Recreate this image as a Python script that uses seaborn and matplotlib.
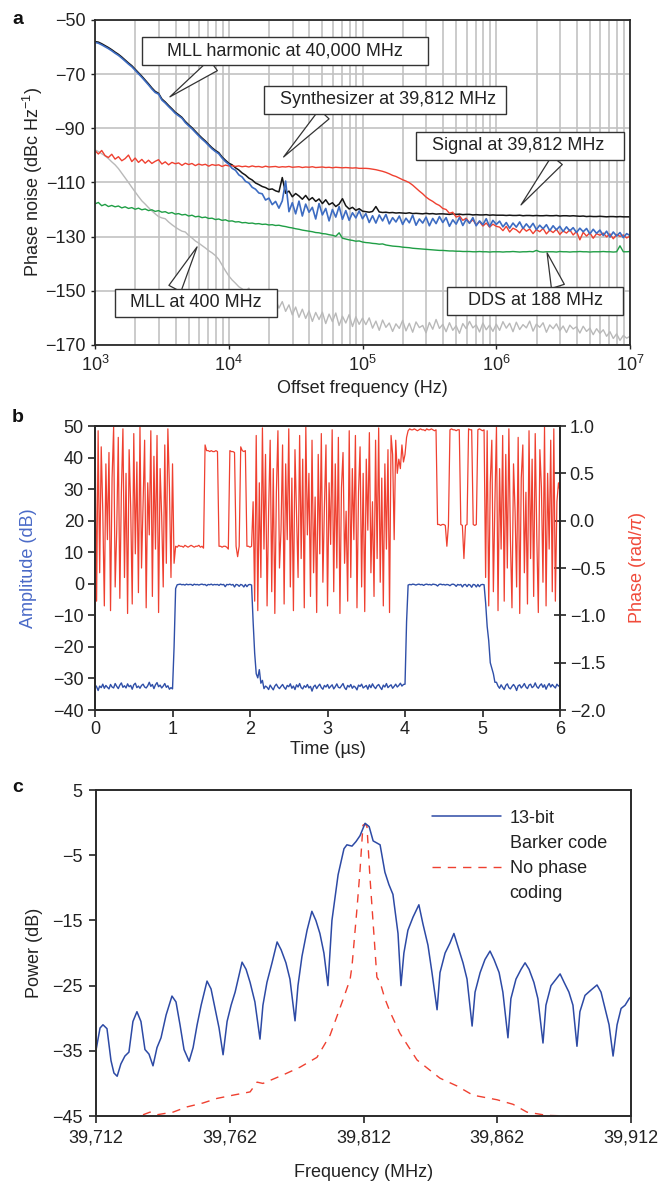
import numpy as np
import pandas as pd
import matplotlib
matplotlib.use("Agg")
import matplotlib.pyplot as plt
import seaborn as sns
from matplotlib.ticker import FixedLocator, FuncFormatter, LogLocator, NullFormatter
from matplotlib.lines import Line2D

# ---------------- panel a data ----------------
offset_exp = np.linspace(3, 7, 161)  # log10 of offset frequency sample grid

mll_harmonic = [
    -58.3, -58.6, -59.2, -59.9, -60.6, -61.4, -62.3, -63.1, -64.1, -65.2,
    -66.3, -67.3, -68.6, -69.9, -71.2, -72.6, -74.0, -75.5, -76.8, -77.4,
    -79.6, -80.7, -82.0, -83.2, -84.5, -85.4, -86.3, -87.9, -89.1, -90.2,
    -91.5, -92.8, -94.0, -95.1, -96.4, -97.6, -98.6, -99.4, -101.0, -102.3,
    -103.3,
    -104.8, -105.5, -107.2, -108.0, -109.6, -110.2, -111.8, -112.5, -113.9, -114.2,
    -116.5, -115.8, -118.2, -117.0, -119.5, -116.8, -109.5, -120.8, -117.5, -121.6,
    -116.9, -122.4, -118.0, -121.0, -119.2, -123.5, -117.8, -122.0, -119.6, -124.2,
    -120.0, -122.8, -118.9, -123.6, -120.4, -124.0, -121.2, -123.1, -120.5, -123.4,
    -121.5, -124.8, -122.3, -125.0, -122.0, -124.2, -121.8, -125.3, -123.0, -124.6,
    -122.4, -125.5, -123.2, -124.9, -122.1, -125.8, -123.5, -125.0, -122.8, -126.0,
    -123.3, -125.2, -122.6, -124.8, -123.0, -126.2, -123.8, -125.4, -122.9, -125.9,
    -123.6, -125.1, -123.0, -126.0, -124.2, -125.6, -123.4, -126.3, -124.0, -125.5,
    -124.3, -126.4, -124.8, -126.9, -125.0, -126.5, -124.6, -127.0, -125.3, -126.8,
    -125.1, -127.4, -125.8, -127.1, -125.6, -127.8, -126.0, -127.5, -126.2, -128.1,
    -126.4, -127.9, -126.7, -128.5, -126.9, -128.2, -127.0, -129.0, -127.3, -128.8,
    -127.6, -129.6, -128.0, -130.2, -128.3, -129.8, -128.5, -130.4, -128.9, -129.6,
]

signal_39812 = [
    -58.0, -58.2, -58.8, -59.5, -60.2, -61.0, -61.9, -62.7, -63.7, -64.8,
    -65.9, -66.9, -68.2, -69.5, -70.8, -72.2, -73.6, -75.1, -76.4, -77.1,
    -79.2, -80.3, -81.6, -82.8, -84.1, -85.0, -86.0, -87.5, -88.7, -89.8,
    -91.1, -92.4, -93.6, -94.7, -96.0, -97.2, -98.2, -99.0, -100.6, -101.8,
    -102.9,
    -103.5, -104.6, -105.4, -106.5, -107.3, -108.4, -109.1, -110.2, -110.8, -111.5,
    -111.9, -112.6, -112.4, -113.1, -113.5, -108.2, -114.0, -113.2, -115.3, -114.1,
    -115.0, -116.2, -114.8, -116.5, -115.6, -117.0, -116.1, -117.8, -116.4, -118.2,
    -117.5, -118.9, -118.0, -116.0, -118.6, -119.8, -119.2, -120.3, -119.7, -120.6,
    -120.8, -121.0, -120.7, -118.9, -120.9, -121.1, -121.0, -121.2, -121.1, -121.3,
    -121.2, -121.3, -121.4, -121.2, -121.5, -121.4, -121.5, -121.6, -121.4, -121.6,
    -121.5, -121.7, -121.6, -121.6, -121.7, -121.8, -121.6, -121.8, -121.7, -121.9,
    -121.8, -121.8, -122.0, -121.9, -122.0, -122.0, -121.9, -122.1, -122.0, -122.1,
    -122.1, -122.1, -122.2, -122.1, -122.2, -122.2, -122.1, -122.3, -122.2, -122.2,
    -122.3, -122.2, -122.3, -122.3, -122.2, -122.3, -122.3, -122.2, -122.4, -122.3,
    -122.3, -122.4, -122.3, -122.4, -122.5, -122.4, -122.6, -122.5, -122.6, -122.6,
    -122.5, -122.6, -122.7, -122.6, -122.6, -122.7, -122.6, -122.7, -122.7, -122.7,
]

synth_39812 = [
    -98.3, -99.5, -98.2, -100.1, -100.8, -99.6, -101.4, -100.5, -102.0, -101.2,
    -99.9, -102.3, -101.0, -102.6, -101.5, -102.9, -101.8, -103.0, -102.2, -101.6,
    -103.2, -102.4, -103.5, -102.6, -103.1, -102.8, -103.7, -102.9, -103.4, -103.0,
    -103.8, -103.2, -103.6, -103.3, -104.0, -103.4, -103.7, -103.5, -104.1, -103.6,
    -103.9,
    -103.8, -104.1, -103.9, -104.2, -104.0, -104.3, -103.9, -104.2, -104.1, -104.4,
    -104.0, -104.3, -104.2, -104.1, -104.4, -104.2, -104.3, -104.1, -104.4, -104.3,
    -104.2, -104.5, -104.3, -104.4, -104.2, -104.5, -104.4, -104.3, -104.5, -104.4,
    -104.6, -104.4, -104.5, -104.6, -104.5, -104.6, -104.7, -104.6, -104.8, -104.8,
    -104.8, -104.9, -105.1, -105.3, -105.6, -105.9, -106.3, -106.8, -107.4, -107.8,
    -108.4, -109.0, -109.5, -110.1, -111.0, -112.1, -113.2, -114.2, -115.4, -116.3,
    -117.0, -117.9, -118.5, -119.6, -120.0, -121.4, -121.0, -122.8, -122.3, -124.0,
    -123.2, -124.9, -123.8, -125.6, -124.5, -126.1, -125.0, -126.5, -125.4, -126.2,
    -126.5, -127.8, -126.2, -128.3, -126.9, -127.5, -128.6, -126.8, -128.0, -127.2,
    -128.9, -127.4, -128.2, -127.0, -129.0, -127.6, -128.5, -127.3, -129.2, -127.9,
    -128.7, -127.5, -129.4, -128.1, -131.2, -128.4, -129.8, -128.6, -130.6, -128.9,
    -129.5, -128.7, -130.1, -129.0, -130.8, -129.2, -129.9, -129.4, -130.5, -129.8,
]

dds_188 = [
    -117.9, -117.4, -118.6, -118.1, -118.9, -118.5, -119.0, -118.7, -119.4, -119.0,
    -119.6, -119.3, -119.9, -119.5, -120.1, -119.8, -120.4, -120.1, -120.7, -120.4,
    -121.0, -120.8, -121.4, -121.1, -121.7, -121.5, -122.0, -121.8, -122.4, -122.1,
    -122.7, -122.5, -123.0, -122.8, -123.3, -123.2, -123.7, -123.5, -124.0, -123.8,
    -124.3,
    -124.2, -124.6, -124.5, -124.9, -124.8, -125.1, -125.0, -125.3, -125.2, -125.5,
    -125.4, -125.7, -125.6, -125.9, -125.8, -126.1, -126.3, -126.6, -126.8, -127.1,
    -127.3, -127.6, -127.8, -128.0, -128.2, -128.5, -128.6, -128.9, -129.0, -129.3,
    -129.5, -129.9, -128.6, -130.6, -130.9, -131.2, -131.4, -131.7, -131.6, -132.0,
    -132.2, -132.3, -132.5, -132.6, -132.8, -132.7, -133.1, -133.3, -133.5, -133.6,
    -133.7, -133.9, -134.0, -134.1, -134.3, -134.4, -134.5, -134.6, -134.7, -134.8,
    -134.9, -135.0, -135.1, -135.1, -135.2, -135.3, -135.3, -135.4, -135.4, -135.5,
    -135.5, -135.5, -135.6, -135.6, -135.5, -135.6, -135.6, -135.7, -135.6, -135.6,
    -135.6, -135.7, -135.6, -135.6, -135.5, -135.6, -135.7, -135.6, -135.6, -135.5,
    -135.6, -135.1, -135.6, -135.7, -135.6, -135.6, -135.6, -135.7, -135.5, -135.6,
    -135.6, -135.7, -135.6, -135.6, -135.5, -135.6, -135.6, -135.7, -135.6, -135.6,
    -135.6, -135.5, -135.6, -135.6, -135.7, -135.6, -133.4, -135.6, -135.6, -135.5,
]

mll_400 = [
    -98.0, -98.6, -99.4, -100.2, -101.2, -102.4, -103.5, -104.9, -106.6, -108.3,
    -110.0, -111.8, -113.5, -115.2, -116.8, -118.0, -119.3, -120.5, -121.6, -122.6,
    -123.1, -123.4, -124.6, -125.6, -126.5, -127.3, -128.0, -128.3, -129.6, -130.5,
    -131.6, -132.4, -133.3, -134.2, -135.2, -136.0, -137.0, -138.4, -140.5, -142.6,
    -144.5,
    -146.0, -147.2, -148.5, -149.3, -150.4, -149.0, -151.6, -149.8, -152.4, -151.0,
    -153.5, -152.2, -155.0, -153.1, -156.4, -154.0, -157.6, -155.2, -158.9, -156.0,
    -159.8, -156.8, -160.2, -157.4, -161.3, -158.0, -160.6, -157.9, -162.1, -158.6,
    -161.4, -158.2, -162.8, -159.4, -161.9, -158.8, -163.2, -159.6, -162.4, -160.1,
    -162.5, -160.0, -163.8, -161.2, -164.6, -160.8, -163.5, -161.9, -165.0, -162.2,
    -163.9, -160.9, -164.8, -162.0, -165.3, -161.5, -163.6, -162.8, -165.5, -161.7,
    -164.2, -160.6, -163.9, -162.4, -165.1, -161.8, -164.6, -162.9, -165.7, -162.1,
    -164.0, -161.3, -163.7, -162.6, -165.2, -161.9, -164.4, -162.7, -165.0, -162.3,
    -164.6, -161.4, -163.8, -162.0, -165.1, -161.6, -164.3, -162.5, -163.7, -161.2,
    -164.9, -162.3, -163.5, -161.8, -165.3, -162.6, -164.0, -162.2, -164.8, -163.0,
    -165.4, -162.7, -164.1, -163.3, -165.6, -163.1, -165.0, -163.8, -166.2, -164.0,
    -165.7, -164.4, -166.8, -165.1, -167.6, -165.9, -168.3, -166.5, -167.5, -166.8,
]

# ---------------- panel b data ----------------
time_us = np.linspace(0, 6, 301)  # sample grid, 20 ns step

amplitude_db = [
    -32.0, -32.6, -33.8, -32.4, -32.9, -31.8, -33.1, -32.2, -32.8, -33.3,
    -31.9, -32.7, -33.0, -31.6, -32.5, -33.2, -32.1, -31.4, -32.8, -32.3,
    -33.0, -31.7, -32.6, -32.2, -33.4, -32.0, -31.5, -32.9, -32.4, -33.1,
    -32.2, -31.8, -32.7, -33.0, -32.3, -31.2, -32.5, -31.9, -33.2, -32.0,
    -31.3, -32.6, -32.1, -33.0, -32.4, -31.6, -32.8, -32.3, -33.4, -32.9,
    -33.3,
    -20.0,
    -1.5, -0.3,
    -0.2, -0.1, -0.3, -0.2, -0.4, -0.1, -0.3, -0.2, -0.2, -0.5,
    -0.1, -0.3, -0.2, -0.4, -0.2, -0.1, -0.3, -0.2, -0.6, -0.2,
    -0.3, -0.1, -0.4, -0.2, -0.3, -0.2, -0.5, -0.1, -0.3, -0.2,
    -0.9, -0.2, -0.3, -0.1, -0.4, -0.2, -1.0, -0.2, -0.3, -0.8,
    -0.2, -0.4, -1.0, -0.2, -0.9, -0.3, -0.2,
    -0.4,
    -12.0, -22.0, -28.5, -29.8, -27.2, -31.5, -30.6, -33.2, -32.4,
    -32.8, -33.5, -32.1, -32.9, -33.6, -32.4, -31.8, -32.7, -33.2, -32.5,
    -31.9, -32.8, -33.4, -32.2, -32.6, -31.7, -33.1, -32.4, -33.5, -32.0,
    -32.7, -31.6, -32.9, -33.3, -32.3, -32.8, -31.9, -33.0, -32.5, -34.0,
    -32.6, -32.1, -33.2, -32.4, -31.8, -32.9, -33.4, -32.2, -32.7, -31.9,
    -33.1, -32.5, -32.0, -33.3, -32.6, -31.7, -32.8, -33.0, -32.3, -31.6,
    -32.9, -33.5, -32.2, -32.7, -31.9, -33.1, -32.4, -32.8, -33.6, -32.1,
    -32.5, -31.8, -33.0, -32.6, -32.2, -33.4, -32.0, -32.9, -31.7, -32.6,
    -33.2, -32.3, -31.9, -32.8, -33.5, -32.1, -32.7, -31.6, -32.9, -32.4,
    -32.0, -33.1, -32.5, -31.8, -32.7, -32.2, -31.5, -32.4, -31.9,
    -31.8, -12.0, -0.4,
    -0.2, -0.3, -0.1, -0.2, -0.4, -0.2, -0.1, -0.3, -0.2, -0.5,
    -0.2, -0.1, -0.3, -0.2, -0.4, -0.1, -0.2, -0.3, -0.7, -0.2,
    -0.1, -0.3, -0.2, -0.4, -0.2, -0.3, -0.6, -0.2, -0.1, -0.3,
    -0.8, -0.2, -0.4, -0.2, -1.0, -0.3, -0.2, -0.9, -0.2, -0.4,
    -1.1, -0.2, -0.3, -1.0, -0.2, -0.9, -0.3, -0.2,
    -0.3,
    -6.0, -13.5, -18.0, -25.0, -26.8, -28.5, -31.2,
    -31.2, -32.4, -33.1, -32.0, -32.8, -33.5, -32.2, -31.7, -32.9, -33.3,
    -32.5, -31.9, -32.6, -33.8, -32.3, -32.0, -33.0, -32.4, -31.6, -32.7,
    -33.2, -32.1, -31.8, -32.9, -32.5, -31.4, -32.6, -33.1, -32.2, -31.7,
    -32.8, -32.0, -33.4, -32.3, -31.6, -32.7, -31.9, -32.5, -33.0, -31.8,
    -32.4, -32.1,
]

phase_rad_pi = [
    0.98, -0.85, 0.95, -0.55, 0.78, 0.1, -0.9, 0.6, -0.2, 0.72,
    -0.95, 0.45, 0.99, -0.7, -0.1, 0.88, -0.82, 0.3, 0.97, -0.6,
    0.5, -0.98, 0.75, 0.15, -0.88, 0.92, -0.35, 0.62, -0.76, 0.99,
    -0.5, 0.2, 0.85, -0.92, 0.4, -0.15, 0.95, -0.8, 0.68, -0.3,
    0.9, -0.97, 0.55, 0.05, -0.7, 0.8, -0.45, 0.97, 0.35, -0.6,
    0.6, -0.45,
    -0.27, -0.28, -0.26, -0.27, -0.27, -0.28, -0.26, -0.27, -0.28, -0.27,
    -0.26, -0.27, -0.28, -0.27, -0.27, -0.26, -0.28, -0.27, -0.29,
    0.80, 0.74, 0.74, 0.73, 0.74, 0.73, 0.73, 0.74, 0.73,
    -0.27, -0.27, -0.28, -0.27, -0.27, -0.28, -0.30,
    0.74, 0.73, 0.73, 0.72,
    -0.27, -0.38, -0.27,
    0.78, 0.74, 0.73, 0.74,
    -0.27, -0.27, -0.28, -0.27,
    0.2, -0.85, 0.9, -0.95, 0.4, -0.6, 0.98, -0.3, 0.7, -0.9,
    0.1, 0.85, -0.75, 0.55, -0.98, 0.3, 0.95, -0.5, -0.1, 0.8,
    -0.88, 0.6, -0.2, 0.97, -0.7, 0.45, -0.95, 0.75, 0.05, -0.6,
    0.9, -0.4, 0.65, -0.92, 0.99, -0.15, 0.5, -0.8, 0.85, -0.55,
    0.25, -0.97, 0.7, -0.35, 0.92, -0.65, 0.15, 0.8, -0.9, 0.4,
    -0.25, 0.96, -0.75, 0.6, -0.5, 0.88, -0.98, 0.35, 0.72, -0.45,
    0.1, -0.85, 0.95, -0.6, 0.55, -0.2, 0.9, -0.92, 0.3, 0.78,
    -0.7, 0.5, -0.96, 0.65, -0.1, 0.93, -0.55, 0.2, -0.8, 0.85,
    -0.4, 0.98, -0.65, 0.45, -0.9, 0.6, -0.3, 0.75, -0.97, 0.9,
    0.7, -0.2, 0.85, 0.5, 0.65, 0.55, 0.8,
    0.62, 0.70, 0.88,
    0.95, 0.97, 0.96, 0.96, 0.97, 0.96, 0.95, 0.96, 0.97, 0.96,
    0.96, 0.95, 0.97, 0.96, 0.96, 0.97, 0.96, 0.95, 0.96,
    -0.04, -0.04, -0.05, -0.04, -0.04, -0.05, -0.27, -0.05,
    0.96, 0.97, 0.96, 0.96, 0.95, 0.96, 0.96,
    -0.04, -0.05, -0.40, -0.05, -0.04,
    0.97, 0.96, 0.96,
    -0.04, -0.05, -0.04,
    0.96, 0.97, 0.96, 0.95, 0.96,
    -0.6, 0.95, -0.9, 0.4, 0.85, -0.75, 0.2, 0.99, -0.95, 0.55,
    -0.3, 0.9, -0.85, 0.7, -0.5, 0.97, -0.2, -0.92, 0.6, 0.1,
    -0.7, 0.88, -0.98, 0.45, 0.8, -0.55, 0.3, -0.88, 0.95, -0.4,
    0.65, -0.8, 0.92, -0.15, -0.97, 0.75, 0.35, -0.65, 0.99, -0.9,
    0.5, -0.3, 0.85, -0.75, 0.97, -0.85, 0.2, 0.4, 0.3,
]

# ---------------- panel c data ----------------
barker_freq = [
    39712.0, 39713.5, 39714.6, 39716.1, 39717.6, 39718.7, 39719.9, 39721.3, 39722.8, 39724.3,
    39725.8, 39727.3, 39728.8, 39730.3, 39731.8, 39733.3, 39734.8, 39736.3, 39738.2, 39740.4,
    39741.9, 39743.4, 39744.9, 39746.8, 39748.3, 39749.8, 39751.3, 39753.5, 39755.0, 39756.5,
    39758.0, 39759.5, 39761.0, 39762.5, 39764.0, 39766.6, 39768.1, 39769.6, 39771.4, 39773.3,
    39774.4, 39775.9, 39777.8, 39779.7, 39781.2, 39783.0, 39784.5, 39786.4, 39787.5, 39789.0,
    39790.9, 39792.7, 39794.2, 39795.7, 39797.2, 39798.7, 39800.2, 39802.5, 39804.7, 39805.8,
    39807.7, 39809.2, 39810.7, 39812.6, 39814.1, 39815.6, 39818.2, 39820.0, 39821.5, 39823.0,
    39824.9, 39826.0, 39827.1, 39828.6, 39830.5, 39832.7, 39834.2, 39836.1, 39837.6, 39839.5,
    39840.6, 39842.5, 39844.3, 39845.8, 39847.3, 39849.2, 39850.7, 39852.6, 39853.7, 39855.6,
    39857.4, 39859.3, 39860.8, 39862.7, 39864.1, 39866.0, 39867.1, 39869.0, 39870.9, 39872.4,
    39873.9, 39875.7, 39877.2, 39879.1, 39880.2, 39882.1, 39884.0, 39885.5, 39887.0, 39888.8,
    39890.3, 39891.8, 39892.9, 39894.8, 39896.7, 39899.3, 39900.8, 39902.3, 39903.8, 39905.3,
    39906.8, 39908.3, 39909.8, 39911.3, 39912.0,
]
barker_power = [
    -34.9, -31.5, -31.0, -31.6, -36.5, -38.4, -38.9, -37.0, -35.8, -35.2,
    -30.5, -29.0, -30.5, -34.8, -35.5, -37.3, -34.5, -33.0, -29.5, -26.6,
    -27.5, -31.0, -34.8, -36.6, -34.5, -31.0, -28.0, -24.3, -25.5, -28.5,
    -31.5, -35.6, -30.5, -28.0, -26.0, -21.4, -22.5, -24.5, -27.5, -33.2,
    -28.0, -24.5, -21.5, -18.3, -19.5, -21.5, -24.0, -30.4, -25.0, -20.5,
    -16.5, -13.6, -15.0, -17.0, -20.0, -25.0, -15.0, -8.0, -4.0, -3.4,
    -3.6, -2.9, -2.0, -0.1, -0.6, -2.8, -3.4, -7.6, -9.5, -11.0,
    -17.0, -25.0, -20.0, -16.5, -14.5, -12.6, -15.5, -18.8, -23.0, -28.7,
    -23.0, -20.0, -18.5, -17.0, -19.0, -21.5, -24.0, -31.2, -26.0, -23.0,
    -21.0, -19.7, -21.0, -23.0, -26.0, -33.0, -27.0, -24.0, -22.5, -21.5,
    -22.5, -24.5, -27.0, -33.8, -28.0, -25.0, -24.0, -23.2, -24.5, -26.0,
    -28.0, -34.3, -29.0, -26.5, -25.8, -24.9, -26.0, -28.5, -31.0, -35.8,
    -31.0, -28.5, -28.0, -27.0, -26.7,
]
nocode_freq = [
    39724.7, 39727.7, 39732.2, 39734.8, 39740.8, 39746.0, 39752.0, 39757.2, 39763.2, 39769.6,
    39772.2, 39774.4, 39781.9, 39788.3, 39794.6, 39799.5, 39804.3, 39807.0, 39807.7, 39809.6,
    39810.7, 39811.8, 39812.6, 39813.3, 39814.4, 39817.0, 39818.2, 39820.0, 39821.9, 39825.6,
    39832.0, 39840.6, 39847.0, 39852.9, 39861.9, 39867.9, 39873.1, 39880.6, 39889.2, 39895.0,
]
nocode_power = [
    -46.0, -45.1, -44.4, -44.8, -44.4, -43.6, -43.0, -42.3, -41.8, -41.3,
    -39.8, -40.0, -38.7, -37.5, -36.0, -32.6, -27.2, -24.0, -22.0, -13.0,
    -7.3, -0.4, -0.2, -0.6, -8.3, -23.7, -24.5, -27.0, -29.0, -32.3,
    -36.4, -39.2, -40.4, -41.8, -42.5, -43.2, -44.4, -44.9, -45.0, -46.0,
]

a_ticks = [-50, -70, -90, -110, -130, -150, -170]
b_left_ticks = [-40, -30, -20, -10, 0, 10, 20, 30, 40, 50]
b_right_ticks = [-2.0, -1.5, -1.0, -0.5, 0.0, 0.5, 1.0]
c_xticks = [39712, 39762, 39812, 39862, 39912]
c_yticks = [5, -5, -15, -25, -35, -45]

# ---------------- style ----------------
sns.set_theme(style="ticks")
plt.rcParams["font.family"] = ["Liberation Sans", "DejaVu Sans"]
plt.rcParams.update({
    "mathtext.fontset": "custom",
    "mathtext.rm": "Liberation Sans",
    "mathtext.it": "Liberation Sans:italic",
    "mathtext.bf": "Liberation Sans:bold",
    "axes.unicode_minus": True,
    "text.color": "#222222",
    "axes.labelcolor": "#222222",
    "xtick.color": "#222222",
    "ytick.color": "#222222",
})
FS = 13
SP = "#2a2a2a"

C_BLUE_A = "#3d6cc2"
C_BLACK = "#151515"
C_RED = "#ef4030"
C_GREEN = "#1f9e45"
C_GRAY = "#b9b9b9"
C_BLUE_B = "#2f4fa8"
C_BLUE_C = "#2d4aa5"

fig = plt.figure(figsize=(6.59, 11.85), dpi=100)
axA = fig.add_axes([0.1442, 0.7089, 0.8118, 0.2743])
axB = fig.add_axes([0.1442, 0.4008, 0.7056, 0.2397])
axC = fig.add_axes([0.1457, 0.0582, 0.8118, 0.2751])

umin = lambda s: s.replace("-", "\u2212")

# ---------------- panel a ----------------
freq_hz = 10 ** offset_exp
dfa = pd.DataFrame({"f": freq_hz, "harm": mll_harmonic, "sig": signal_39812,
                    "syn": synth_39812, "dds": dds_188, "mll": mll_400})
axA.set_xscale("log")
for col, c, lw in [("mll", C_GRAY, 1.0), ("dds", C_GREEN, 1.0), ("sig", C_BLACK, 1.1),
                   ("syn", C_RED, 1.0), ("harm", C_BLUE_A, 1.2)]:
    sns.lineplot(data=dfa, x="f", y=col, ax=axA, color=c, linewidth=lw,
                 estimator=None, sort=False)
axA.set_xlim(1e3, 1e7)
axA.set_ylim(-170, -50)
axA.yaxis.set_major_locator(FixedLocator(a_ticks))
axA.yaxis.set_major_formatter(FuncFormatter(lambda v, p: umin(f"{v:.0f}")))
axA.xaxis.set_major_locator(LogLocator(base=10, numticks=10))
axA.xaxis.set_minor_locator(LogLocator(base=10, subs=np.arange(2, 10), numticks=20))
axA.xaxis.set_minor_formatter(NullFormatter())
axA.grid(which="major", axis="both", color="#c2c2c2", linewidth=1.2)
axA.grid(which="minor", axis="x", color="#c2c2c2", linewidth=1.2)
axA.set_axisbelow(True)
axA.tick_params(which="major", labelsize=FS, length=3, width=1, direction="out", pad=4)
axA.tick_params(which="minor", length=0)
for s in axA.spines.values():
    s.set_color(SP); s.set_linewidth(1.3)
axA.set_xlabel("Offset frequency (Hz)", fontsize=FS, labelpad=4)
axA.set_ylabel("Phase noise (dBc Hz$^{-1}$)", fontsize=FS, labelpad=0)

box = dict(boxstyle="square,pad=0.3", fc="white", ec="#333333", lw=1.0)
callouts = [
    ("    MLL harmonic at 40,000 MHz    ", (10 ** 3.56, -78.4), (10 ** 4.42, -61.4), (0.27, 0.0)),
    ("  Synthesizer at 39,812 MHz ", (10 ** 4.41, -100.6), (10 ** 5.17, -79.5), (0.26, 0.0)),
    ("  Signal at 39,812 MHz   ", (10 ** 6.185, -118.3), (10 ** 6.18, -96.5), (0.71, 0.0)),
    ("   DDS at 188 MHz   ", (10 ** 6.38, -136.0), (10 ** 6.29, -153.7), (0.65, 1.0)),
    ("  MLL at 400 MHz  ", (10 ** 3.763, -133.8), (10 ** 3.755, -154.5), (0.34, 1.0)),
]
for txt, tip, pos, rp in callouts:
    axA.annotate(txt, xy=tip, xytext=pos, xycoords="data", textcoords="data",
                 ha="center", va="center", fontsize=FS, bbox=box, zorder=6,
                 arrowprops=dict(arrowstyle="wedge,tail_width=0.75,shrink_factor=0.5",
                                 fc="white", ec="#333333", lw=0.9, relpos=rp,
                                 shrinkA=0, shrinkB=0))

# ---------------- panel b ----------------
dfb = pd.DataFrame({"t": time_us, "amp": amplitude_db, "ph": phase_rad_pi})
sns.lineplot(data=dfb, x="t", y="amp", ax=axB, color=C_BLUE_B, linewidth=1.0,
             estimator=None, sort=False)
axB2 = axB.twinx()
sns.lineplot(data=dfb, x="t", y="ph", ax=axB2, color=C_RED, linewidth=0.9,
             estimator=None, sort=False)
axB.set_xlim(0, 6)
axB.set_ylim(-40, 50)
axB2.set_ylim(-2.0, 1.0)
axB.yaxis.set_major_locator(FixedLocator(b_left_ticks))
axB.yaxis.set_major_formatter(FuncFormatter(lambda v, p: umin(f"{v:.0f}")))
axB2.yaxis.set_major_locator(FixedLocator(b_right_ticks))
axB2.yaxis.set_major_formatter(FuncFormatter(lambda v, p: umin(f"{v:.1f}")))
axB.xaxis.set_major_locator(FixedLocator([0, 1, 2, 3, 4, 5, 6]))
axB.tick_params(labelsize=FS, length=5, width=1.2, direction="out", pad=3)
axB2.tick_params(labelsize=FS, length=8, width=1.2, direction="inout", pad=3)
for s in list(axB.spines.values()) + list(axB2.spines.values()):
    s.set_color(SP); s.set_linewidth(1.4)
axB.set_xlabel("Time (\u00b5s)", fontsize=FS, labelpad=2)
axB.set_ylabel("Amplitude (dB)", fontsize=FS, color="#4a6ac7", labelpad=12)
axB2.set_ylabel("Phase (rad/$\\pi$)", fontsize=FS, color="#f04a3a", labelpad=16)

# ---------------- panel c ----------------
dfc1 = pd.DataFrame({"f": barker_freq, "p": barker_power})
dfc2 = pd.DataFrame({"f": nocode_freq, "p": nocode_power})
sns.lineplot(data=dfc2, x="f", y="p", ax=axC, color=C_RED, linewidth=1.0,
             linestyle=(0, (6, 5)), estimator=None, sort=False)
sns.lineplot(data=dfc1, x="f", y="p", ax=axC, color=C_BLUE_C, linewidth=1.1,
             estimator=None, sort=False)
axC.set_xlim(39712, 39912)
axC.set_ylim(-45, 5)
axC.xaxis.set_major_locator(FixedLocator(c_xticks))
axC.xaxis.set_major_formatter(FuncFormatter(lambda v, p: f"{v:,.0f}"))
axC.yaxis.set_major_locator(FixedLocator(c_yticks))
axC.yaxis.set_major_formatter(FuncFormatter(lambda v, p: umin(f"{v:.0f}")))
axC.tick_params(labelsize=FS, length=5, width=1.2, direction="out", pad=5)
for s in axC.spines.values():
    s.set_color(SP); s.set_linewidth(1.4)
axC.set_xlabel("Frequency (MHz)", fontsize=FS, labelpad=12)
axC.set_ylabel("Power (dB)", fontsize=FS, labelpad=6)

hnd = [Line2D([], [], color=C_BLUE_C, lw=1.1),
       Line2D([], [], color="none"),
       Line2D([], [], color=C_RED, lw=1.0, ls=(0, (6, 5))),
       Line2D([], [], color="none")]
axC.legend(hnd, ["13-bit", "Barker code", "No phase", "coding"],
           loc="upper left", bbox_to_anchor=(0.628, 0.94), frameon=False,
           fontsize=FS, handlelength=3.8, handletextpad=0.5, labelspacing=0.45,
           borderaxespad=0, borderpad=0)

# panel letters
for letter, ypx in [("a", 20), ("b", 418), ("c", 788)]:
    fig.text(12 / 659, 1 - ypx / 1185, letter, fontsize=14, fontweight="bold",
             ha="left", va="center", color="#111111")

fig.savefig("out.png", dpi=100)
